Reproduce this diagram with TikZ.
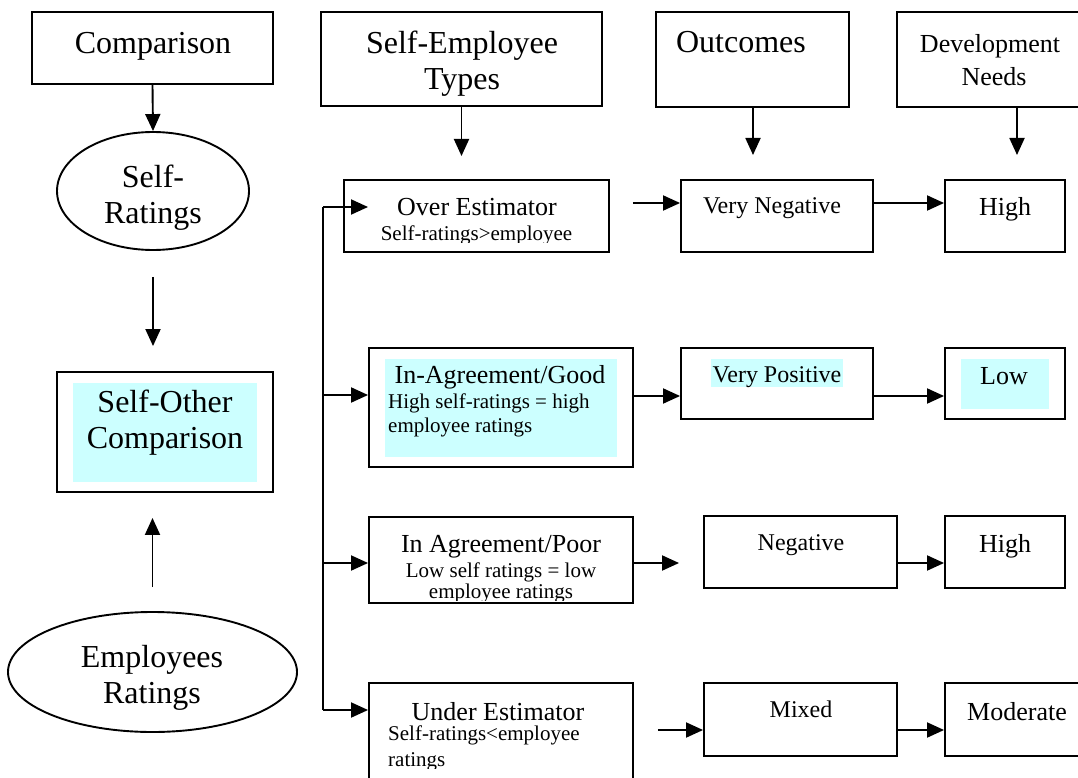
\documentclass[tikz,border=0pt]{standalone}
\usepackage{fontspec}
\setmainfont{Liberation Serif}
\usetikzlibrary{arrows.meta,shapes.geometric}
\definecolor{hl}{HTML}{CCFFFF}

\tikzset{
  box/.style={draw, line width=1.9pt, inner sep=0pt},
  oval/.style={ellipse, draw, line width=1.9pt, inner sep=0pt},
  tA/.style={font=\fontsize{32}{36}\selectfont, inner sep=0pt, anchor=base},
  tB/.style={font=\fontsize{26}{30}\selectfont, inner sep=0pt, anchor=base},
  tC/.style={font=\fontsize{24}{28}\selectfont, inner sep=0pt, anchor=base},
  tD/.style={font=\fontsize{21}{25}\selectfont, inner sep=0pt, anchor=base},
  tDl/.style={tD, anchor=base west},
  ln/.style={line width=1.9pt},
  arr/.style={line width=1.9pt, -{Triangle[length=17pt,width=15pt]}},
}

\begin{document}
\begin{tikzpicture}[x=1pt,y=-1pt]
\useasboundingbox (0,0) rectangle (1078,778);

% highlighted backgrounds
\fill[hl] (73,383) rectangle (257,482);
\fill[hl] (385,359) rectangle (617,457);
\fill[hl] (711,359) rectangle (843,387);
\fill[hl] (961,359) rectangle (1049,409);

% column headers
\node[box, minimum width=241pt, minimum height=72pt] (cmp) at (152.5,48) {};
\node[box, minimum width=281pt, minimum height=94pt] (set) at (461.5,59) {};
\node[box, minimum width=193pt, minimum height=95pt] (out) at (752.5,59.5) {};
\node[box, minimum width=188pt, minimum height=95pt] (dev) at (991,59.5) {};

\node[tA] (cmpT) at (153,54) {Comparison};
\node[tA] (setT1) at (462,54) {Self-Employee};
\node[tA] (setT2) at (462,90) {Types};
\node[tA] (outT) at (741,53) {Outcomes};
\node[tB] (devT1) at (990,53) {Development};
\node[tB] (devT2) at (994,86) {Needs};

% left column
\node[oval, minimum width=192pt, minimum height=118pt] (sr) at (153,191) {};
\node[tA] (srT1) at (153,188) {Self-};
\node[tA] (srT2) at (153,223) {Ratings};

\node[box, minimum width=216pt, minimum height=120pt] (soc) at (165,432) {};
\node[tA] (socT1) at (165,412) {Self-Other};
\node[tA] (socT2) at (165,448) {Comparison};

\node[oval, minimum width=289pt, minimum height=120pt] (er) at (152.5,672) {};
\node[tA] (erT1) at (152,667) {Employees};
\node[tA] (erT2) at (152,703) {Ratings};

% self-employee types
\node[box, minimum width=265pt, minimum height=72pt] (ov) at (476.5,216) {};
\node[tB] (ovT) at (477,215) {Over Estimator};
\begin{scope}
  \clip (340,170) rectangle (615,242);
  \node[tD] (ovS) at (476.5,240) {Self-ratings>employee};
\end{scope}

\node[box, minimum width=264pt, minimum height=119pt] (ag) at (501,407.5) {};
\node[tB] (agT) at (500,383) {In-Agreement/Good};
\node[tDl] (agS1) at (388,408) {High self-ratings = high};
\node[tDl] (agS2) at (388,432) {employee ratings};

\node[box, minimum width=264pt, minimum height=86pt] (ap) at (501,560) {};
\node[tB] (apT) at (501,552) {In Agreement/Poor};
\node[tD] (apS1) at (501,577) {Low self ratings = low};
\begin{scope}
  \clip (365,500) rectangle (640,600);
  \node[tD] (apS2) at (501,598) {employee ratings};
\end{scope}

\node[box, minimum width=264pt, minimum height=117pt] (ue) at (501,741.5) {};
\node[tB] (ueT) at (498,720) {Under Estimator};
\node[tDl] (ueS1) at (388,740) {Self-ratings<employee};
\begin{scope}
  \clip (365,680) rectangle (640,768);
  \node[tDl] (ueS2) at (388,766) {ratings};
\end{scope}

% outcomes
\node[box, minimum width=192pt, minimum height=72pt] (vn) at (777,216) {};
\node[tC] (vnT) at (772,213) {Very Negative};
\node[box, minimum width=192pt, minimum height=71pt] (vp) at (777,383.5) {};
\node[tC] (vpT) at (777,382) {Very Positive};
\node[box, minimum width=193pt, minimum height=72pt] (ng) at (800.5,552) {};
\node[tC] (ngT) at (801,550) {Negative};
\node[box, minimum width=193pt, minimum height=73pt] (mx) at (800.5,719.5) {};
\node[tC] (mxT) at (801,717) {Mixed};

% development needs
\node[box, minimum width=120pt, minimum height=72pt] (h1) at (1005,216) {};
\node[tB] (h1T) at (1005,215) {High};
\node[box, minimum width=120pt, minimum height=71pt] (lo) at (1005,383.5) {};
\node[tB] (loT) at (1004,384) {Low};
\node[box, minimum width=120pt, minimum height=72pt] (h2) at (1005,552) {};
\node[tB] (h2T) at (1005,552) {High};
\node[box, minimum width=140pt, minimum height=73pt] (md) at (1015,719.5) {};
\node[tB] (mdT) at (1017,720) {Moderate};

% header arrows
\coordinate (setEnd) at (461.5,156);
\coordinate (outEnd) at (753,155);
\coordinate (devTop) at (1017,107);
\coordinate (devEnd) at (1017,155);
\draw[arr] (cmp.south) -- (sr.north);
\draw[arr] (set.south) -- (setEnd);
\draw[arr] (out.south -| outEnd) -- (outEnd);
\draw[arr] (devTop) -- (devEnd);

% left column arrows
\draw[arr, shorten <=26pt, shorten >=25pt] (sr.south) -- (sr.south |- soc.north);
\draw[arr, shorten <=24pt, shorten >=25pt] (er.north) -- (er.north |- soc.south);

% branching bus
\coordinate (b1) at (323,207);
\coordinate (b2) at (323,395);
\coordinate (b3) at (323,563);
\coordinate (b4) at (323,710);
\coordinate (ovIn) at (368,207);
\draw[ln] (b1) -- (b4);
\draw[arr] (b1) -- (ovIn);
\draw[arr] (b2) -- (b2 -| ag.west);
\draw[arr] (b3) -- (b3 -| ap.west);
\draw[arr] (b4) -- (b4 -| ue.west);

% row arrows
\coordinate (r1) at (0,203);
\coordinate (r2) at (0,396);
\coordinate (r3) at (0,563);
\coordinate (r4) at (0,730);
\draw[arr, shorten <=23pt] (ov.east |- r1) -- (vn.west |- r1);
\draw[arr] (vn.east |- r1) -- (h1.west |- r1);
\draw[arr] (ag.east |- r2) -- (vp.west |- r2);
\draw[arr] (vp.east |- r2) -- (lo.west |- r2);
\draw[arr, shorten >=24pt] (ap.east |- r3) -- (ng.west |- r3);
\draw[arr] (ng.east |- r3) -- (h2.west |- r3);
\draw[arr, shorten <=24pt] (ue.east |- r4) -- (mx.west |- r4);
\draw[arr] (mx.east |- r4) -- (md.west |- r4);
\end{tikzpicture}
\end{document}
